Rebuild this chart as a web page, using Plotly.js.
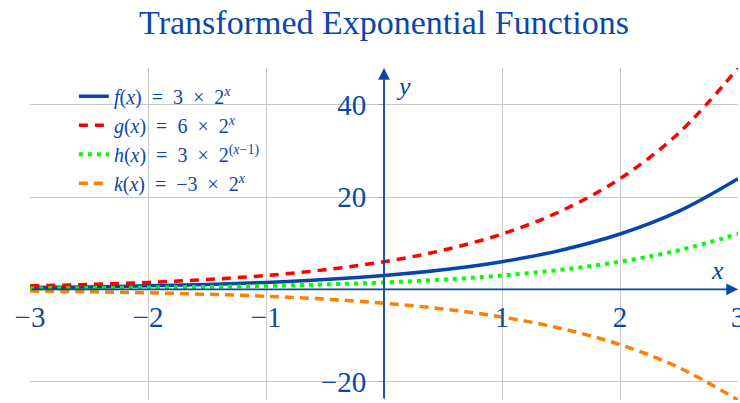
<!DOCTYPE html>
<html>
<head>
<meta charset="utf-8">
<script src="https://cdn.plot.ly/plotly-3.0.1.min.js"></script>
<style>html,body{margin:0;padding:0;background:#fff;}#chart{width:740px;height:403px;}</style>
</head>
<body>
<div id="chart"></div>
<script>
const xs = [-3, -2.5, -2, -1.5, -1, -0.5, 0, 0.5, 1, 1.5, 2, 2.5, 3];
const fVals = [0.375, 0.530, 0.75, 1.061, 1.5, 2.121, 3, 4.243, 6, 8.485, 12, 16.971, 24];
const gVals = [0.75, 1.061, 1.5, 2.121, 3, 4.243, 6, 8.485, 12, 16.971, 24, 33.941, 48];
const hVals = [0.1875, 0.265, 0.375, 0.530, 0.75, 1.061, 1.5, 2.121, 3, 4.243, 6, 8.485, 12];
const kVals = [-0.375, -0.530, -0.75, -1.061, -1.5, -2.121, -3, -4.243, -6, -8.485, -12, -16.971, -24];
const SP = '\u2002';
const seriesNames = [
  '<i>f</i>(<i>x</i>)' + SP + '=' + SP + '3' + SP + '×' + SP + '2<sup><i>x</i></sup>',
  '<i>g</i>(<i>x</i>)' + SP + '=' + SP + '6' + SP + '×' + SP + '2<sup><i>x</i></sup>',
  '<i>h</i>(<i>x</i>)' + SP + '=' + SP + '3' + SP + '×' + SP + '2<sup>(<i>x</i>−1)</sup>',
  '<i>k</i>(<i>x</i>)' + SP + '=' + SP + '−3' + SP + '×' + SP + '2<sup><i>x</i></sup>'
];
const xTicks = [-3, -2, -1, 1, 2, 3];
const yTicks = [-20, 20, 40];
const xRange = [-3, 3];
const yRange = [-24, 48];

const BLUE = '#0b47a8';
const FONT = 'Liberation Serif, Times New Roman, serif';

const traces = [
  {x: xs, y: fVals, name: seriesNames[0], legendgroup: 'a', mode: 'lines', line: {color: '#0645ad', width: 3.5, shape: 'spline'}},
  {x: xs, y: gVals, name: seriesNames[1], legendgroup: 'b', mode: 'lines', line: {color: '#ff0000', width: 3.5, dash: '9px,7px', shape: 'spline'}},
  {x: xs, y: hVals, name: seriesNames[2], legendgroup: 'c', mode: 'lines', line: {color: '#00ff00', width: 4, dash: '4px,5px', shape: 'spline'}},
  {x: xs, y: kVals, name: seriesNames[3], legendgroup: 'd', mode: 'lines', line: {color: '#ff8000', width: 3.5, dash: '9px,6px', shape: 'spline'}}
];

const yZeroFrac = (0 - yRange[0]) / (yRange[1] - yRange[0]);
const xZeroFrac = (0 - xRange[0]) / (xRange[1] - xRange[0]);

const layout = {
  width: 740, height: 403,
  margin: {l: 30, r: 2, t: 68, b: 3},
  paper_bgcolor: '#fff', plot_bgcolor: '#fff',
  showlegend: true,
  legend: {x: 0.062, y: 0.974, xanchor: 'left', yanchor: 'top', bgcolor: 'rgba(0,0,0,0)',
    font: {family: FONT, size: 20, color: BLUE}, tracegroupgap: 3, traceorder: 'normal'},
  title: {text: 'Transformed Exponential Functions', font: {family: FONT, size: 34, color: BLUE},
    x: 0.5, xref: 'paper', y: 0.945, yref: 'container', yanchor: 'middle'},
  xaxis: {range: xRange, anchor: 'free', position: yZeroFrac, tickvals: xTicks,
    showgrid: false, zeroline: false, showline: false, ticklabeloverflow: 'allow',
    ticks: '', tickfont: {family: FONT, size: 29, color: BLUE}, ticklabelstandoff: 8},
  yaxis: {range: yRange, anchor: 'free', position: xZeroFrac, tickvals: yTicks,
    showgrid: false, zeroline: false, showline: false,
    ticks: 'outside', ticklen: 6, tickcolor: '#a0a0a0', tickwidth: 1,
    tickfont: {family: FONT, size: 29, color: BLUE}, ticklabelstandoff: 6},
  xaxis2: {range: xRange, overlaying: 'x', tickvals: [-3, -2, -1, 0, 1, 2, 3], showticklabels: false,
    showgrid: true, gridcolor: '#c8c8c8', gridwidth: 1, zeroline: false, anchor: 'y2'},
  yaxis2: {range: yRange, overlaying: 'y', tickvals: [-20, 0, 20, 40], showticklabels: false,
    showgrid: true, gridcolor: '#c8c8c8', gridwidth: 1, zeroline: false, anchor: 'x2'},
  annotations: [
    {x: 3, y: 0, ax: -3, ay: 0, xref: 'x', yref: 'y', axref: 'x', ayref: 'y', text: '', showarrow: true,
      arrowhead: 2, arrowsize: 1.3, arrowwidth: 1.8, arrowcolor: BLUE, standoff: 0},
    {x: 0, y: 48, ax: 0, ay: -24, xref: 'x', yref: 'y', axref: 'x', ayref: 'y', text: '', showarrow: true,
      arrowhead: 2, arrowsize: 1.3, arrowwidth: 1.8, arrowcolor: BLUE, standoff: 0},
    {x: 3, y: 0, xref: 'x', yref: 'y', text: '<i>x</i>', showarrow: false, xanchor: 'center', yanchor: 'bottom',
      xshift: -21, yshift: 2, font: {family: FONT, size: 26, color: BLUE}},
    {x: 0, y: 48, xref: 'x', yref: 'y', text: '<i>y</i>', showarrow: false, xanchor: 'left', yanchor: 'top',
      xshift: 10, yshift: -2, font: {family: FONT, size: 26, color: BLUE}}
  ]
};

traces.unshift({x: [0], y: [0], xaxis: 'x2', yaxis: 'y2', mode: 'markers', marker: {opacity: 0}, showlegend: false, hoverinfo: 'skip'});

Plotly.newPlot('chart', traces, layout, {displayModeBar: false, staticPlot: true});
</script>
</body>
</html>
